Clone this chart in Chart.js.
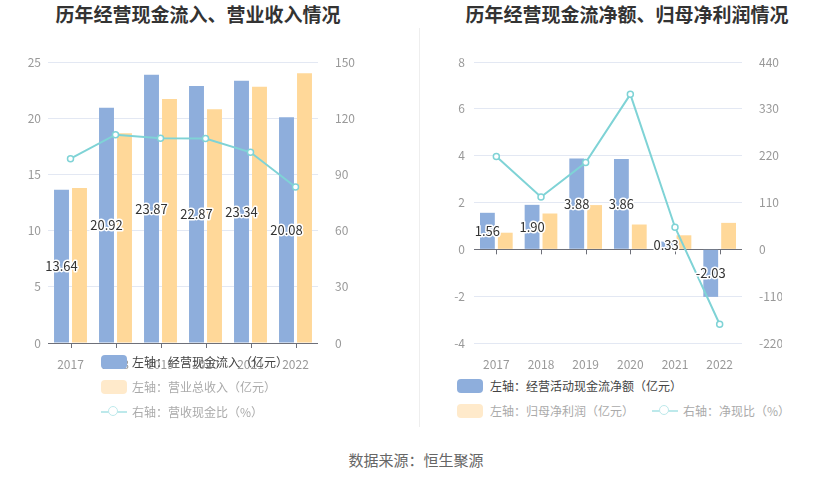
<!DOCTYPE html>
<html>
<head>
<meta charset="utf-8">
<script src="https://cdn.jsdelivr.net/npm/chart.js@4.4.1/dist/chart.umd.min.js"></script>
<style>
  body { margin: 0; width: 832px; height: 481px; background: #fff; position: relative; overflow: hidden;
         font-family: "Noto Sans CJK SC", "Noto Sans", sans-serif; }
  canvas { position: absolute; top: 0; }
  .title { position: absolute; top: 0; height: 28px; line-height: 28px; text-align: center;
           font-size: 19px; font-weight: bold; color: #333; }
  .divider { position: absolute; left: 419px; top: 28px; width: 1px; height: 399px; background: #eee; }
  .footer { position: absolute; left: 0; width: 832px; top: 450px; line-height: 20px; text-align: center;
            font-size: 15px; color: #666; }
  .lg { position: absolute; font-size: 12px; line-height: 14px; white-space: nowrap; }
  .box { position: absolute; width: 26px; height: 14px; border-radius: 4px; }
  .lineicon { position: absolute; width: 26px; height: 2px; }
  .dot { position: absolute; width: 8px; height: 8px; border-radius: 50%; background: #fff; }
</style>
</head>
<body>
<div class="title" style="left:0;width:396px;">历年经营现金流入、营业收入情况</div>
<div class="title" style="left:420px;width:414px;">历年经营现金流净额、归母净利润情况</div>
<div class="divider"></div>
<canvas id="leftChart" width="418" height="370" style="left:0"></canvas>
<canvas id="rightChart" width="412" height="370" style="left:420px"></canvas>

<div class="box" style="left:101px;top:355px;background:#8eaedc"></div>
<div class="lg" style="left:132px;top:355px;color:#444">左轴：经营现金流入（亿元）</div>
<div class="box" style="left:101px;top:380px;background:#ffeacb"></div>
<div class="lg" style="left:132px;top:380px;color:#aaa">左轴：营业总收入（亿元）</div>
<div class="lineicon" style="left:101px;top:411px;background:#bde9eb"></div>
<div class="dot" style="left:108px;top:406px;border:1.5px solid #bde9eb"></div>
<div class="lg" style="left:132px;top:405px;color:#aaa">右轴：营收现金比（%）</div>

<div class="box" style="left:457px;top:379px;background:#8eaedc"></div>
<div class="lg" style="left:490px;top:379px;color:#444">左轴：经营活动现金流净额（亿元）</div>
<div class="box" style="left:457px;top:404px;background:#ffeacb"></div>
<div class="lg" style="left:490px;top:404px;color:#aaa">左轴：归母净利润（亿元）</div>
<div class="lineicon" style="left:652px;top:410px;background:#bde9eb"></div>
<div class="dot" style="left:659px;top:405px;border:1.5px solid #bde9eb"></div>
<div class="lg" style="left:683px;top:404px;color:#aaa">右轴：净现比（%）</div>

<div class="footer">数据来源：恒生聚源</div>

<script>
const years = ["2017", "2018", "2019", "2020", "2021", "2022"];

// left chart
const cashInflow = [13.64, 20.92, 23.87, 22.87, 23.34, 20.08];
const revenue = [13.8, 18.65, 21.7, 20.8, 22.8, 24.0];
const cashRevRatio = [98.4, 111.2, 109.3, 109.1, 101.8, 83.3];
const leftAxisL = { min: 0, max: 25, step: 5 };
const leftAxisR = { min: 0, max: 150, step: 30 };

// right chart
const netCash = [1.56, 1.90, 3.88, 3.86, 0.33, -2.03];
const netProfit = [0.71, 1.53, 1.89, 1.06, 0.6, 1.13];
const netRatio = [218, 123, 204, 364, 52, -176];
const rightAxisL = { min: -4, max: 8, step: 2 };
const rightAxisR = { min: -220, max: 440, step: 110 };

const BLUE = "#8eaedc", YELLOW = "#ffd899", TEAL = "#7fd3d6";
const AXIS = "#6e7079", GRID = "#e3e8f3", TICK = "#999";

Chart.defaults.font.family = '"Noto Sans CJK SC", "Noto Sans", sans-serif';
Chart.defaults.font.size = 12;

// bar value labels in the middle of the blue bars + small ticks on the zero line
const decorations = {
    id: "decorations",
    afterDatasetsDraw(chart) {
        const ctx = chart.ctx;
        const y = chart.scales.y;
        const x = chart.scales.x;
        const zero = y.getPixelForValue(0);
        ctx.save();
        ctx.strokeStyle = AXIS;
        ctx.lineWidth = 1;
        chart.data.labels.forEach((l, i) => {
            const px = Math.round(x.getPixelForValue(i)) + 0.5;
            ctx.beginPath();
            ctx.moveTo(px, zero);
            ctx.lineTo(px, zero + 5);
            ctx.stroke();
        });
        const meta = chart.getDatasetMeta(0);
        ctx.font = "13px " + Chart.defaults.font.family;
        ctx.textAlign = "center";
        ctx.textBaseline = "middle";
        ctx.lineJoin = "round";
        meta.data.forEach((bar, i) => {
            const txt = chart.data.datasets[0].data[i].toFixed(2);
            const cy = (bar.y + bar.base) / 2;
            ctx.strokeStyle = "#fff";
            ctx.lineWidth = 3;
            ctx.strokeText(txt, bar.x, cy);
            ctx.fillStyle = "#333";
            ctx.fillText(txt, bar.x, cy);
        });
        ctx.restore();
    }
};

function makeChart(canvas, bars1, bars2, line, axL, axR, geo) {
    return new Chart(canvas, {
        type: "bar",
        data: {
            labels: years,
            datasets: [
                { data: bars1, backgroundColor: BLUE, order: 2, yAxisID: "y",
                  categoryPercentage: 0.8, barPercentage: 0.83 },
                { data: bars2, backgroundColor: YELLOW, order: 2, yAxisID: "y",
                  categoryPercentage: 0.8, barPercentage: 0.83 },
                { type: "line", data: line, yAxisID: "y1", order: 1, borderColor: TEAL, borderWidth: 2,
                  pointRadius: 3, pointBackgroundColor: "#fff", pointBorderColor: TEAL,
                  pointBorderWidth: 1.5, tension: 0 }
            ]
        },
        options: {
            responsive: false,
            animation: false,
            layout: { padding: { top: 62, left: 0, right: geo.padRight, bottom: 0 } },
            plugins: { legend: { display: false }, tooltip: { enabled: false } },
            scales: {
                x: {
                    grid: { display: false },
                    border: { display: false },
                    ticks: { color: TICK, padding: 6 },
                    afterFit: s => { s.height = 27; }
                },
                y: {
                    position: "left",
                    min: axL.min, max: axL.max,
                    ticks: { stepSize: axL.step, color: TICK, padding: geo.padL },
                    grid: { drawTicks: false, color: c => c.tick.value === 0 ? AXIS : GRID },
                    border: { display: false },
                    afterFit: s => { s.width = geo.wL; }
                },
                y1: {
                    position: "right",
                    min: axR.min, max: axR.max,
                    ticks: { stepSize: axR.step, color: TICK, padding: 9 },
                    grid: { display: false },
                    border: { display: false },
                    afterFit: s => { s.width = 40; }
                }
            }
        },
        plugins: [decorations]
    });
}

makeChart(document.getElementById("leftChart"), cashInflow, revenue, cashRevRatio,
    leftAxisL, leftAxisR, { wL: 48, padL: 7, padRight: 60 });
makeChart(document.getElementById("rightChart"), netCash, netProfit, netRatio,
    rightAxisL, rightAxisR, { wL: 54, padL: 9, padRight: 50 });
</script>
</body>
</html>
